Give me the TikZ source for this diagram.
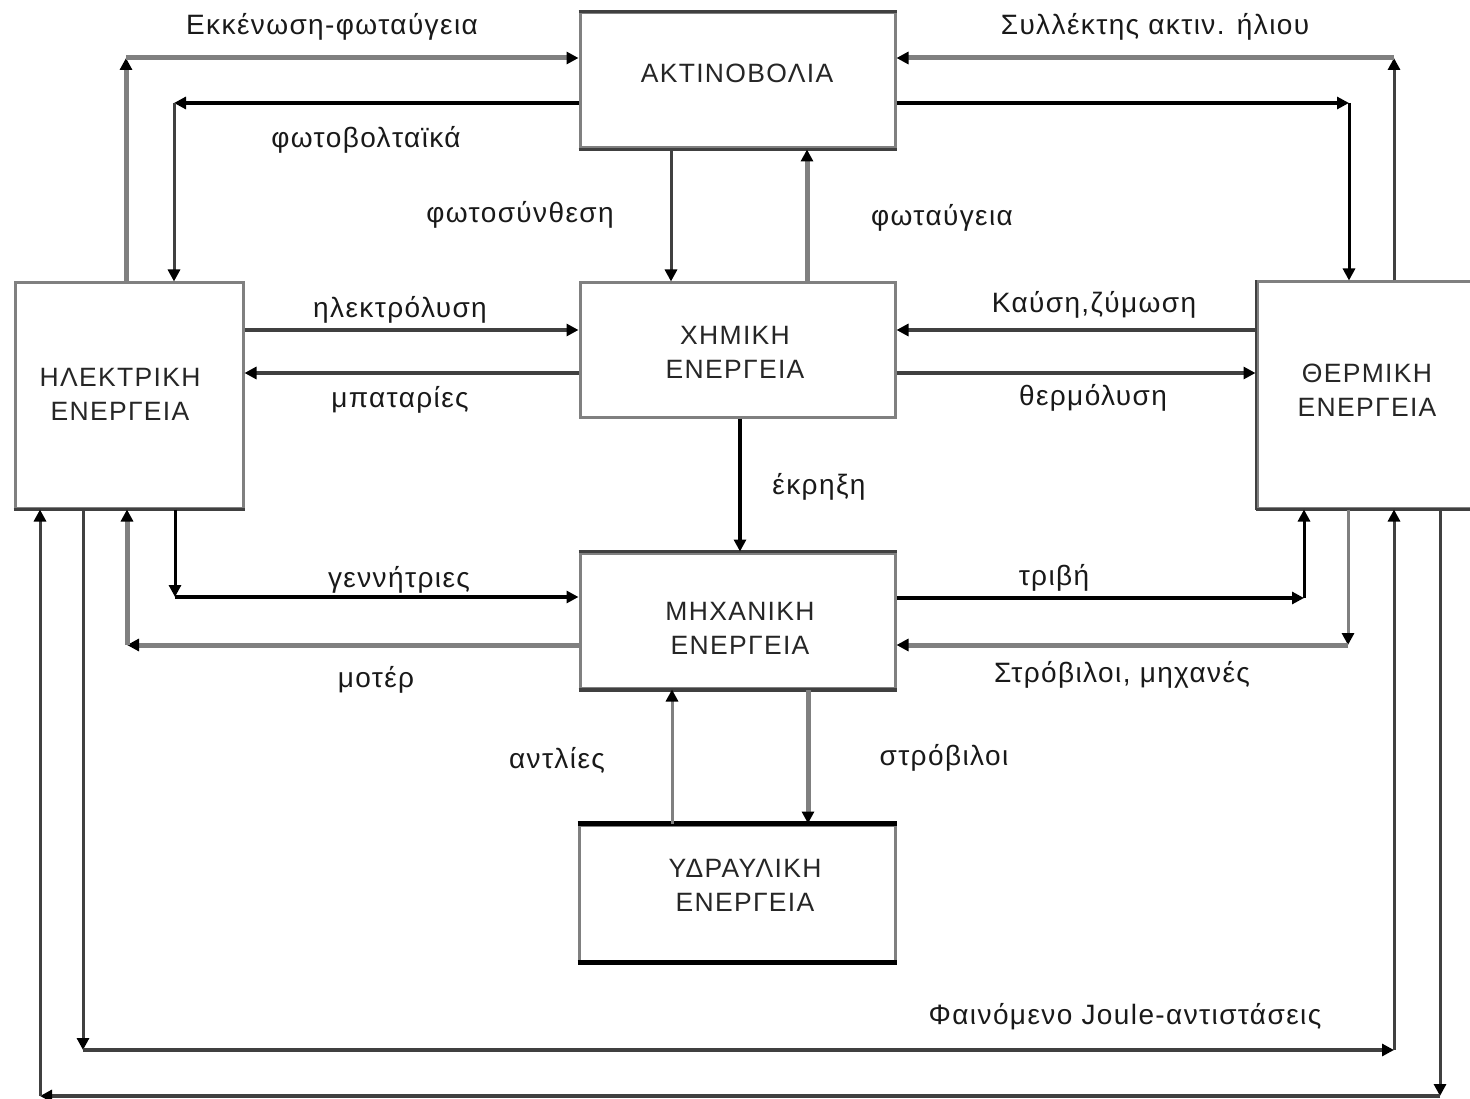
\documentclass[tikz,border=0pt]{standalone}
\usepackage{fontspec}
\setmainfont{Liberation Sans}[LetterSpace=5]
\usetikzlibrary{arrows.meta,calc}
\definecolor{lg}{HTML}{808080}
\definecolor{dg}{HTML}{404040}
\begin{document}
\begin{tikzpicture}[x=1pt,y=-1pt,
  box/.style={draw=lg, line width=3pt, fill=white, inner sep=0pt},
  boxtext/.style={align=center, font=\fontsize{26.5}{34}\selectfont, text=black!85, inner sep=0pt},
  lbl/.style={font=\fontsize{28}{30}\selectfont, text=black!90, inner sep=0pt},
  tip/.style={-{Triangle[length=12pt,width=12pt,color=black]}},
  wgray/.style={draw=lg, line width=5pt, tip},
  ngray/.style={draw=lg, line width=3pt, tip},
  wdark/.style={draw=dg, line width=4pt, tip},
  ndark/.style={draw=dg, line width=3pt, tip},
  wblack/.style={draw=black, line width=4pt, tip},
  nblack/.style={draw=black, line width=3pt, tip},
]
\clip (0,0) rectangle (1470,1099);
\fill[white] (0,0) rectangle (1470,1099);

% energy boxes
\node[box, minimum width=315, minimum height=135] (akt)   at (737.5,80.5) {};
\node[box, minimum width=315, minimum height=134] (chem)  at (737.5,350) {};
\node[box, minimum width=228, minimum height=225] (elec)  at (129,395.5) {};
\node[box, minimum width=220, minimum height=226] (therm) at (1367,395) {};
\node[box, minimum width=315, minimum height=135] (mech)  at (737.5,620.5) {};
\node[box, minimum width=316, minimum height=136] (hydr)  at (737,893) {};

% darker top and bottom edges
\draw[dg, line width=3pt] (akt.north west) -- (akt.north east);
\draw[dg, line width=3pt] (akt.south west) -- (akt.south east);
\draw[dg, line width=3pt] (elec.south west) -- (elec.south east);
\draw[dg, line width=3pt] (therm.south west) -- (therm.south east);
\draw[dg, line width=2pt] (therm.north west) -- (therm.south west);
\draw[dg, line width=3pt] (mech.north west) -- (mech.north east);
\draw[dg, line width=4pt] (mech.south west) -- (mech.south east);
\draw[black, line width=5pt] (hydr.north west) -- (hydr.north east);
\draw[black, line width=5pt] (hydr.south west) -- (hydr.south east);

% box titles
\node[boxtext] (aktT)   at (737,73)    {ΑΚΤΙΝΟΒΟΛΙΑ};
\node[boxtext] (chemT)  at (735,352)   {ΧΗΜΙΚΗ\\ΕΝΕΡΓΕΙΑ};
\node[boxtext] (elecT)  at (120,394)   {ΗΛΕΚΤΡΙΚΗ\\ΕΝΕΡΓΕΙΑ};
\node[boxtext] (thermT) at (1367,390)  {ΘΕΡΜΙΚΗ\\ΕΝΕΡΓΕΙΑ};
\node[boxtext] (mechT)  at (740,628)   {ΜΗΧΑΝΙΚΗ\\ΕΝΕΡΓΕΙΑ};
\node[boxtext] (hydrT)  at (745,885)   {ΥΔΡΑΥΛΙΚΗ\\ΕΝΕΡΓΕΙΑ};

% corner points of the routed connectors
\coordinate (k1) at (126,58);
\coordinate (k2) at (174,103);
\coordinate (k3) at (1394,58);
\coordinate (k4) at (1349,103);
\coordinate (k5) at (175,597);
\coordinate (k6) at (127,645);
\coordinate (k7) at (1304,598);
\coordinate (k8) at (1348,645);
\coordinate (j1) at (83,1050);
\coordinate (j2) at (1394,1050);
\coordinate (b1) at (1440,1096);
\coordinate (b2) at (40,1096);
\coordinate (xa) at (671,0);
\coordinate (xb) at (807,0);
\coordinate (xc) at (740,0);
\coordinate (xd) at (672,0);
\coordinate (xe) at (808,0);
\coordinate (ya) at (0,330);
\coordinate (yb) at (0,373);

% electrical <-> radiation
\draw[wgray] (elec.north -| k1) -- (k1);
\draw[wgray] (k1) -- (akt.west |- k1);
\draw[wblack] (akt.west |- k2) -- (k2);
\draw[ndark] (k2) -- (elec.north -| k2);

% thermal <-> radiation
\draw[ndark] (therm.north -| k3) -- (k3);
\draw[wgray] (k3) -- (akt.east |- k3);
\draw[wblack] (akt.east |- k4) -- (k4);
\draw[nblack] (k4) -- (therm.north -| k4);

% radiation <-> chemical
\draw[ndark] (akt.south -| xa) -- (chem.north -| xa);
\draw[wgray] (chem.north -| xb) -- (akt.south -| xb);

% chemical <-> electrical and thermal
\draw[wdark] (elec.east |- ya) -- (chem.west |- ya);
\draw[wdark] (chem.west |- yb) -- (elec.east |- yb);
\draw[wdark] (therm.west |- ya) -- (chem.east |- ya);
\draw[wdark] (chem.east |- yb) -- (therm.west |- yb);

% chemical -> mechanical
\draw[wblack] (chem.south -| xc) -- (mech.north -| xc);

% electrical <-> mechanical
\draw[nblack] (elec.south -| k5) -- (k5);
\draw[wblack] (k5) -- (mech.west |- k5);
\draw[wgray] (mech.west |- k6) -- (k6);
\draw[wgray] (k6) -- (elec.south -| k6);

% mechanical <-> thermal
\draw[wblack] (mech.east |- k7) -- (k7);
\draw[nblack] (k7) -- (therm.south -| k7);
\draw[ngray] (therm.south -| k8) -- (k8);
\draw[wgray] (k8) -- (mech.east |- k8);

% hydraulic <-> mechanical
\draw[ngray] (hydr.north -| xd) -- (mech.south -| xd);
\draw[wgray] (mech.south -| xe) -- (hydr.north -| xe);

% Joule heating loop and return loop
\draw[ndark] (elec.south -| j1) -- (j1);
\draw[wdark] (j1) -- (j2);
\draw[ndark] (j2) -- (therm.south -| j2);
\draw[ndark] (therm.south -| b1) -- (b1);
\draw[wdark] (b1) -- (b2);
\draw[ndark] (b2) -- (elec.south -| b2);

% connector labels
\node[lbl] (l1)  at (332,27)   {Εκκένωση-φωταύγεια};
\node[lbl] (l2)  at (366,140)  {φωτοβολταϊκά};
\node[lbl] (l3)  at (520,215)  {φωτοσύνθεση};
\node[lbl] (l4)  at (942,218)  {φωταύγεια};
\node[lbl] (l5)  at (1155,27)  {Συλλέκτης ακτιν. ήλιου};
\node[lbl] (l6)  at (400,310)  {ηλεκτρόλυση};
\node[lbl] (l7)  at (400,400)  {μπαταρίες};
\node[lbl] (l8)  at (1094,305) {Καύση,ζύμωση};
\node[lbl] (l9)  at (1093,398) {θερμόλυση};
\node[lbl] (l10) at (819,487)  {έκρηξη};
\node[lbl] (l11) at (399,580)  {γεννήτριες};
\node[lbl] (l12) at (376,680)  {μοτέρ};
\node[lbl] (l13) at (1054,578) {τριβή};
\node[lbl] (l14) at (1122,675) {Στρόβιλοι, μηχανές};
\node[lbl] (l15) at (557,760)  {αντλίες};
\node[lbl] (l16) at (944,758)  {στρόβιλοι};
\node[lbl] (l17) at (1125,1017) {Φαινόμενο Joule-αντιστάσεις};
\end{tikzpicture}
\end{document}
